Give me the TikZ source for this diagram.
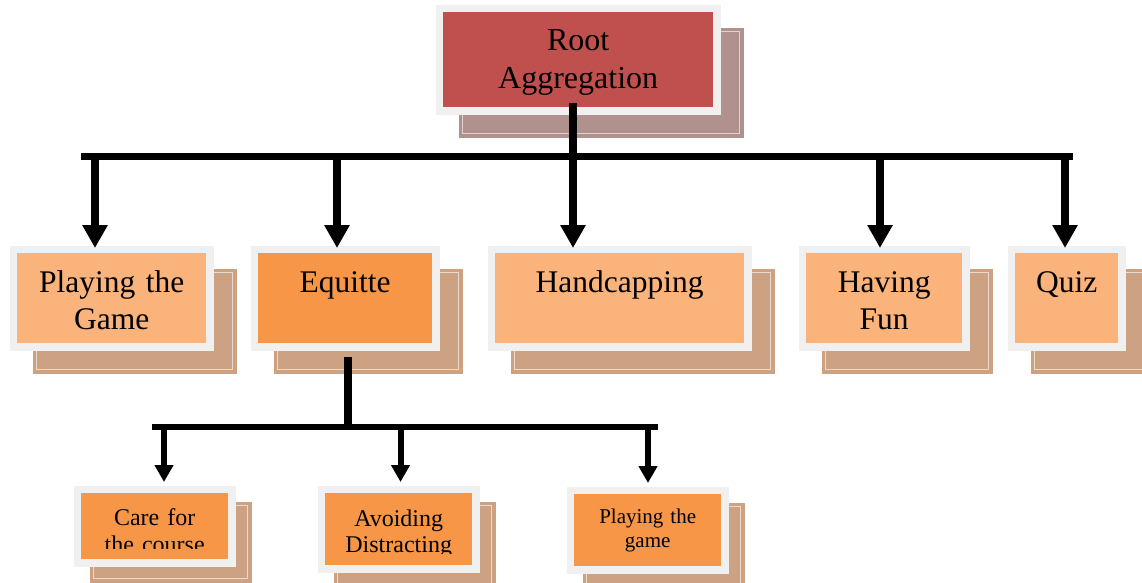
\documentclass[tikz,border=0pt]{standalone}
\usepackage{fontspec}
\setmainfont{Liberation Serif}
\usetikzlibrary{arrows.meta,backgrounds}

\definecolor{rootred}{HTML}{C0504D}
\definecolor{rootshade}{HTML}{B0918E}
\definecolor{ltorange}{HTML}{F9B37B}
\definecolor{dkorange}{HTML}{F79646}
\definecolor{shadetan}{HTML}{CCA283}
\definecolor{framegray}{HTML}{F0F0F0}

\tikzset{
  box/.style={anchor=north west, inner sep=0pt, align=center},
  topbox/.style={box, text height=39pt, text depth=51pt, font=\fontsize{31.5}{37}\selectfont},
  bus/.style={line width=7pt},
  drop/.style={line width=8pt},
  arrowone/.style={line width=8pt, -{Triangle[width=24pt,length=23pt]}, shorten >=5pt},
  arrowtwo/.style={line width=6pt, -{Triangle[width=18pt,length=17pt]}, shorten >=11pt},
}

\begin{document}
\begin{tikzpicture}[x=1pt,y=-1pt]
\useasboundingbox (0,0) rectangle (1142,582);

% boxes
\node[box, fill=rootred, text width=270pt, text height=38pt, text depth=57pt,
  font=\fontsize{32}{38}\selectfont] (root) at (443,12) {Root\\Aggregation};

\node[topbox, fill=ltorange, text width=189pt] (game) at (17,253) {Playing the\\Game};
\node[topbox, fill=dkorange, text width=174pt] (equitte) at (258,253) {Equitte};
\node[topbox, fill=ltorange, text width=249pt] (handcap) at (495,253) {Handcapping};
\node[topbox, fill=ltorange, text width=156pt] (fun) at (806,253) {Having\\Fun};
\node[topbox, fill=ltorange, text width=103pt] (quiz) at (1015,253) {Quiz};

\node[box, fill=dkorange, text width=147pt, text height=32pt, text depth=34pt,
  font=\fontsize{24}{27}\selectfont] (care) at (81,493) {Care for\\the course};
\node[box, fill=dkorange, text width=147pt, text height=33pt, text depth=39pt,
  font=\fontsize{24}{26}\selectfont] (avoid) at (325,493) {Avoiding\\Distracting};
\node[box, fill=dkorange, text width=147pt, text height=29pt, text depth=43pt,
  font=\fontsize{21}{24.5}\selectfont] (playgame) at (574,494) {Playing the\\game};

% text cut off at the bottom
\fill[dkorange] (care.south west) ++(0,-10) rectangle (care.south east);
\fill[dkorange] (avoid.south west) ++(0,-11) rectangle (avoid.south east);

% frames and shadows
\begin{scope}[on background layer]
\foreach \n/\s/\c in {root/23/rootshade, game/23/shadetan, equitte/23/shadetan,
    handcap/23/shadetan, fun/23/shadetan, quiz/23/shadetan,
    care/16/shadetan, avoid/16/shadetan, playgame/16/shadetan}{
  \fill[\c] ([shift={(\s-7.5,\s-7.5)}]\n.north west) rectangle ([shift={(\s+7.5,\s+7.5)}]\n.south east);
  \draw[white, opacity=0.6, line width=1pt] ([shift={(\s-3.5,\s-3.5)}]\n.north west) rectangle ([shift={(\s+3.5,\s+3.5)}]\n.south east);
}
\foreach \n in {root,game,equitte,handcap,fun,quiz,care,avoid,playgame}
  \fill[framegray] ([shift={(-7.5,-7.5)}]\n.north west) rectangle ([shift={(7.5,7.5)}]\n.south east);
\end{scope}

% connectors
\coordinate (bus1w) at (81,156);
\coordinate (bus1e) at (1073,156);
\coordinate (hub1) at (572.5,156);
\coordinate (tgame) at (95,156);
\coordinate (tequitte) at (337,156);
\coordinate (thandcap) at (573,156);
\coordinate (tfun) at (880,156);
\coordinate (tquiz) at (1065,156);

\coordinate (bus2w) at (152,427);
\coordinate (bus2e) at (658,427);
\coordinate (hub2) at (348,427);
\coordinate (tcare) at (164,427);
\coordinate (tavoid) at (400.5,427);
\coordinate (tplaygame) at (648,427);

\draw[drop, shorten <=-4pt] (hub1 |- root.south) -- (hub1);
\draw[bus] (bus1w) -- (bus1e);
\draw[arrowone] (tgame) -- (tgame |- game.north);
\draw[arrowone] (tequitte) -- (tequitte |- equitte.north);
\draw[arrowone] (thandcap) -- (thandcap |- handcap.north);
\draw[arrowone] (tfun) -- (tfun |- fun.north);
\draw[arrowone] (tquiz) -- (tquiz |- quiz.north);

\draw[drop, shorten <=14pt, shorten >=-3pt] (hub2 |- equitte.south) -- (hub2);
\draw[bus, line width=6.5pt] (bus2w) -- (bus2e);
\draw[arrowtwo] (tcare) -- (tcare |- care.north);
\draw[arrowtwo] (tavoid) -- (tavoid |- avoid.north);
\draw[arrowtwo] (tplaygame) -- (tplaygame |- playgame.north);
\end{tikzpicture}
\end{document}
